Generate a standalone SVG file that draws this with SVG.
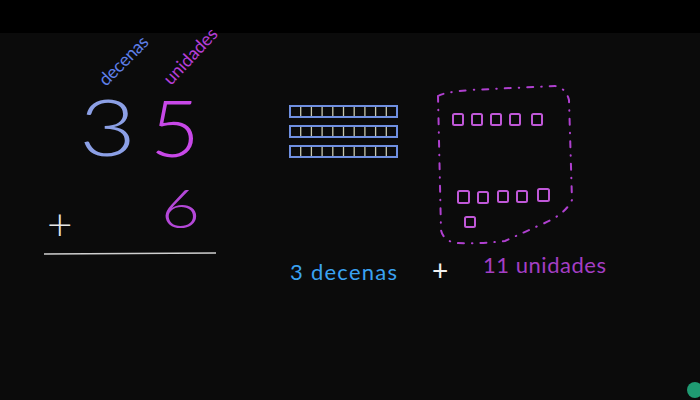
<svg xmlns="http://www.w3.org/2000/svg" width="700" height="400" viewBox="0 0 700 400">
<style>
.hw{font-family:Lato,"Open Sans","DejaVu Sans",sans-serif;font-weight:300}
.lbl{font-family:Lato,"Open Sans","DejaVu Sans",sans-serif;font-weight:400}
.rod{fill:none;stroke:#6f8fe0;stroke-width:2}
.div{stroke:#c8c8b0;stroke-width:1.3}
.sq{fill:none;stroke:#c058d8;stroke-width:2}
</style>
<rect x="0" y="0" width="700" height="400" fill="#0b0b0b"/>
<rect x="0" y="0" width="700" height="33" fill="#000"/>
<g id="label-decenas"><text class="lbl" x="0" y="0" transform="translate(106,87) rotate(-45)" font-size="18" fill="#5e7fe8" textLength="62">decenas</text></g>
<g id="label-unidades"><text class="lbl" x="0" y="0" transform="translate(171,86) rotate(-47)" font-size="18" fill="#b43ed6" textLength="70">unidades</text></g>
<g id="digit-3"><text class="hw" x="0" y="0" transform="translate(79,156) scale(1.2,0.95)" font-size="82" fill="#8ca0e6">3</text></g>
<g id="digit-5"><text class="hw" x="0" y="0" transform="translate(150,157) scale(1.05,0.97)" font-size="82" fill="#c848e8">5</text></g>
<g id="plus-left"><text class="hw" x="47" y="240" font-size="44" fill="#e8e8e8">+</text></g>
<g id="digit-6"><text class="hw" x="0" y="0" transform="translate(161,228) scale(1.2,0.95)" font-size="56" fill="#b448d8">6</text></g>
<g id="sum-line"><line x1="44" y1="254" x2="216" y2="253" stroke="#d0d0d0" stroke-width="1.6"/></g>
<g id="ten-rods">
<rect class="rod" x="290" y="106" width="107" height="11"/>
<rect class="rod" x="290" y="126" width="107" height="11"/>
<rect class="rod" x="290" y="146" width="107" height="11"/>
<path class="div" d="M300.7,107v9M311.4,107v9M322.1,107v9M332.8,107v9M343.5,107v9M354.2,107v9M364.9,107v9M375.6,107v9M386.3,107v9M300.7,127v9M311.4,127v9M322.1,127v9M332.8,127v9M343.5,127v9M354.2,127v9M364.9,127v9M375.6,127v9M386.3,127v9M300.7,147v9M311.4,147v9M322.1,147v9M332.8,147v9M343.5,147v9M354.2,147v9M364.9,147v9M375.6,147v9M386.3,147v9"/>
</g>
<g id="units-group">
<path d="M438,96 Q445,92 470,90 L555,86 Q566,88 569,100 L572,200 Q565,215 540,225 L505,241 Q480,244 455,243 Q443,240 441,230 L438,96" fill="none" stroke="#b040d0" stroke-width="2" stroke-dasharray="6 8 0.5 8" stroke-linecap="round"/>
<rect class="sq" x="453" y="114" width="10" height="11" rx="1.5"/>
<rect class="sq" x="472" y="114" width="10" height="11" rx="1.5"/>
<rect class="sq" x="491" y="114" width="10" height="11" rx="1.5"/>
<rect class="sq" x="510" y="114" width="10" height="11" rx="1.5"/>
<rect class="sq" x="532" y="114" width="10" height="11" rx="1.5"/>
<rect class="sq" x="458" y="191" width="11" height="12" rx="1.5"/>
<rect class="sq" x="478" y="192" width="10" height="11" rx="1.5"/>
<rect class="sq" x="498" y="191" width="10" height="11" rx="1.5"/>
<rect class="sq" x="517" y="191" width="10" height="11" rx="1.5"/>
<rect class="sq" x="538" y="189" width="11" height="12" rx="1.5"/>
<rect class="sq" x="465" y="217" width="10" height="10" rx="1.5"/>
</g>
<g id="bottom-text">
<text class="lbl" x="290" y="280" font-size="22" fill="#3aa2f2" textLength="107">3 decenas</text>
<text class="lbl" x="432" y="281" font-size="28" fill="#f0f0f0">+</text>
<text class="lbl" x="483" y="273" font-size="22" fill="#a43ec4" textLength="123">11 unidades</text>
</g>
<g id="logo"><circle cx="695" cy="390" r="8" fill="#1f9a72"/></g>
</svg>
